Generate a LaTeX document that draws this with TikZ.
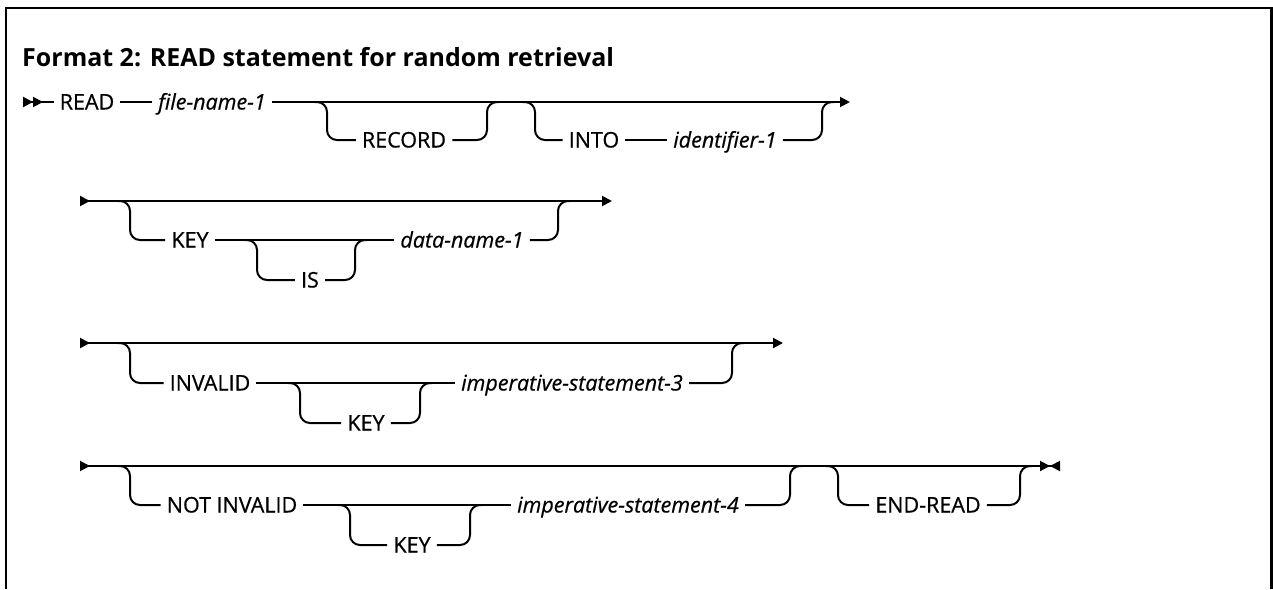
\documentclass[tikz,border=0pt]{standalone}
\usepackage{fontspec}
\setmainfont{Open Sans}
\newfontfamily\railfont{Open Sans}[FakeBold=0.6]
\usetikzlibrary{arrows.meta,calc}

\begin{document}
\begin{tikzpicture}[
  x=1pt, y=-1pt,
  >={Triangle[length=10pt,width=10pt]},
  % Styles
  kw/.style={font=\railfont\fontsize{21.5pt}{25pt}\selectfont, inner xsep=6pt, inner ysep=0pt,
    text height=15pt, text depth=0pt},
  var/.style={kw, font=\railfont\fontsize{21.5pt}{25pt}\selectfont\itshape},
  title/.style={font=\fontsize{25pt}{29pt}\selectfont\bfseries, anchor=base west, inner sep=0pt},
  track/.style={line width=2pt, draw=black},
  branch/.style={track, rounded corners=10pt},
  frame/.style={line width=2.2pt, draw=black},
]

% === Page and frame ===
\fill[white] (0,0) rectangle (1273,589);
\useasboundingbox (0,0) rectangle (1273,589);
\draw[frame] (6,589) -- (6,8) -- (1271.5,8) -- (1271.5,589);

\node[title] (head) at (22,66) {Format 2: READ statement for random retrieval};

% === ROW 1: READ file-name-1 ===
\coordinate (r1start) at (23,102);
\coordinate (r1end) at (850,102);
\node[kw] (read) at (87,102) {READ};
\node[var] (file1) at (212,102) {file-name-1};
\node[kw] (record) at (404,140) {RECORD};
\node[kw] (into) at (594,140) {INTO};
\node[var] (ident1) at (725,140) {identifier-1};
\coordinate (recA) at (327,102);
\coordinate (recB) at (487,102);
\coordinate (intoA) at (535,102);
\coordinate (intoB) at (822,102);

\draw[track, >>-] (r1start) -- (read);
\draw[track] (read) -- (file1);
\draw[track, ->] (file1) -- (r1end);
\draw[branch] ($(recA)-(12,0)$) -- (recA) |- (record);
\draw[branch] (record) -| (recB) -- ++(12,0);
\draw[branch] ($(intoA)-(12,0)$) -- (intoA) |- (into);
\draw[track] (into) -- (ident1);
\draw[branch] (ident1) -| (intoB) -- ++(12,0);

% === ROW 2: KEY IS data-name-1 ===
\coordinate (r2start) at (80,201);
\coordinate (r2end) at (612,201);
\node[kw] (key2) at (190,240) {KEY};
\node[kw] (is2) at (310,280) {IS};
\node[var] (dname1) at (462,240) {data-name-1};
\coordinate (keyA) at (130,201);
\coordinate (keyB) at (558,201);
\coordinate (isA) at (257,240);
\coordinate (isB) at (355,240);

\draw[track, >->] (r2start) -- (r2end);
\draw[branch] ($(keyA)-(12,0)$) -- (keyA) |- (key2);
\draw[track] (key2) -- (dname1);
\draw[branch] (dname1) -| (keyB) -- ++(12,0);
\draw[branch] ($(isA)-(12,0)$) -- (isA) |- (is2);
\draw[branch] (is2) -| (isB) -- ++(12,0);

% === ROW 3: INVALID KEY ===
\coordinate (r3start) at (80,343);
\coordinate (r3end) at (783,343);
\node[kw] (inv3) at (210,383) {INVALID};
\node[kw] (key3) at (366,423) {KEY};
\node[var] (imp3) at (572,383) {imperative-statement-3};
\coordinate (invA) at (130,343);
\coordinate (invB) at (732,343);
\coordinate (key3A) at (300,383);
\coordinate (key3B) at (420,383);

\draw[track, >->] (r3start) -- (r3end);
\draw[branch] ($(invA)-(12,0)$) -- (invA) |- (inv3);
\draw[track] (inv3) -- (imp3);
\draw[branch] (imp3) -| (invB) -- ++(12,0);
\draw[branch] ($(key3A)-(12,0)$) -- (key3A) |- (key3);
\draw[branch] (key3) -| (key3B) -- ++(12,0);

% === ROW 4: NOT INVALID KEY, END-READ ===
\coordinate (r4start) at (80,466);
\coordinate (r4end) at (1060,466);
\node[kw] (notinv) at (232,505) {NOT INVALID};
\node[kw] (key4) at (412,545) {KEY};
\node[var] (imp4) at (628,505) {imperative-statement-4};
\node[kw] (endread) at (928,505) {END-READ};
\coordinate (notA) at (130,466);
\coordinate (notB) at (790,466);
\coordinate (key4A) at (350,505);
\coordinate (key4B) at (470,505);
\coordinate (endA) at (838,466);
\coordinate (endB) at (1020,466);

\draw[track, >-><] (r4start) -- (r4end);
\draw[branch] ($(notA)-(12,0)$) -- (notA) |- (notinv);
\draw[track] (notinv) -- (imp4);
\draw[branch] (imp4) -| (notB) -- ++(12,0);
\draw[branch] ($(key4A)-(12,0)$) -- (key4A) |- (key4);
\draw[branch] (key4) -| (key4B) -- ++(12,0);
\draw[branch] ($(endA)-(12,0)$) -- (endA) |- (endread);
\draw[branch] (endread) -| (endB) -- ++(12,0);

\end{tikzpicture}
\end{document}
